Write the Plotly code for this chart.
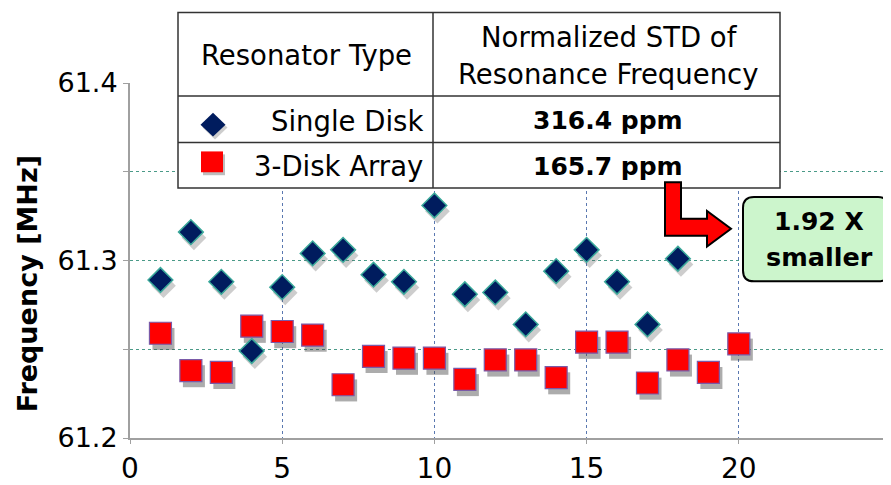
import plotly.graph_objects as go

# ---- data ----
single_x = list(range(1, 19))
single_y = [61.289, 61.316, 61.288, 61.249, 61.285, 61.304, 61.306, 61.292, 61.288,
            61.331, 61.281, 61.282, 61.264, 61.294, 61.306, 61.288, 61.264, 61.301]
array_x = list(range(1, 21))
array_y = [61.259, 61.238, 61.237, 61.263, 61.260, 61.258, 61.230, 61.246, 61.245,
           61.245, 61.233, 61.244, 61.244, 61.234, 61.254, 61.254, 61.231, 61.244,
           61.237, 61.253]
x_ticks = [0, 5, 10, 15, 20]
y_ticks = [61.2, 61.3, 61.4]
y_tick_text = ["61.2", "61.3", "61.4"]
y_minor = [61.25, 61.35]

table_header = ["Resonator Type", "Normalized STD of", "Resonance Frequency"]
table_types = ["Single Disk", "3-Disk Array"]
table_std = ["316.4 ppm", "165.7 ppm"]
ratio_lines = ["1.92 X", "smaller"]
y_title = "Frequency [MHz]"

# ---- layout geometry (page pixels; the page body has an 8px margin) ----
BODY = 8
PAGE_W, PAGE_H = 891, 485
P_L, P_R, P_T, P_B = 130, 891, 83, 441   # plot area in page pixels
W, H = PAGE_W - BODY, PAGE_H - BODY
ML, MT = P_L - BODY, P_T - BODY
MR, MB = 0, H - (P_B - BODY)
PW, PH = P_R - P_L, P_B - P_T


def px(x):
    return (x - P_L) / PW


def py(y):
    return (P_B - y) / PH


FONT = "DejaVu Sans"
fig = go.Figure()

# shadows (derived from data)
sx_off, sy_off = 0.1, -0.0032
fig.add_trace(go.Scatter(x=[v + sx_off for v in array_x], y=[v + sy_off for v in array_y],
                         mode="markers", hoverinfo="skip",
                         marker=dict(symbol="square", size=22, color="rgba(70,70,70,0.45)")))
fig.add_trace(go.Scatter(x=[v + sx_off for v in single_x], y=[v + sy_off for v in single_y],
                         mode="markers", hoverinfo="skip",
                         marker=dict(symbol="diamond", size=19, color="rgba(90,90,90,0.3)")))

fig.add_trace(go.Scatter(x=array_x, y=array_y, mode="markers", name="3-Disk Array",
                         marker=dict(symbol="square", size=22, color="#ff0000",
                                     line=dict(color="#7a5aa8", width=1.2))))
fig.add_trace(go.Scatter(x=single_x, y=single_y, mode="markers", name="Single Disk",
                         marker=dict(symbol="diamond", size=19, color="#001c5e",
                                     line=dict(color="#3aa89a", width=1.5))))

shapes = []
# table
T_L, T_R, T_T, T_B, T_MID, R1, R2 = 178, 780, 12, 189, 433, 96, 143
shapes.append(dict(type="rect", xref="paper", yref="paper", x0=px(T_L), x1=px(T_R),
                   y0=py(T_B), y1=py(T_T), fillcolor="white",
                   line=dict(color="#333333", width=1.5), layer="above"))
shapes.append(dict(type="line", xref="paper", yref="paper", x0=px(T_MID), x1=px(T_MID),
                   y0=py(T_B), y1=py(T_T), line=dict(color="#333333", width=1.5), layer="above"))
for r in (R1, R2):
    shapes.append(dict(type="line", xref="paper", yref="paper", x0=px(T_L), x1=px(T_R),
                       y0=py(r), y1=py(r), line=dict(color="#333333", width=1.5), layer="above"))


def diamond_path(cx, cy, hw, hh):
    return (f"M {px(cx)},{py(cy - hh)} L {px(cx + hw)},{py(cy)} "
            f"L {px(cx)},{py(cy + hh)} L {px(cx - hw)},{py(cy)} Z")


# legend symbols in table
shapes.append(dict(type="path", xref="paper", yref="paper", path=diamond_path(215, 128, 12.5, 12),
                   fillcolor="rgba(90,90,90,0.3)", line=dict(width=0), layer="above"))
shapes.append(dict(type="path", xref="paper", yref="paper", path=diamond_path(213, 125, 12.5, 12),
                   fillcolor="#001c5e", line=dict(width=0), layer="above"))
shapes.append(dict(type="rect", xref="paper", yref="paper", x0=px(203), x1=px(225),
                   y0=py(176), y1=py(155), fillcolor="rgba(90,90,90,0.4)",
                   line=dict(width=0), layer="above"))
shapes.append(dict(type="rect", xref="paper", yref="paper", x0=px(201), x1=px(223),
                   y0=py(173), y1=py(152), fillcolor="#ff0000",
                   line=dict(width=0), layer="above"))

# L-shaped arrow
arrow_pts = [(665, 183), (681, 183), (681, 220), (707, 220), (707, 212), (731, 230),
             (707, 248), (707, 237), (665, 237)]
arrow_path = "M " + " L ".join(f"{px(a)},{py(b)}" for a, b in arrow_pts) + " Z"
shapes.append(dict(type="path", xref="paper", yref="paper", path=arrow_path,
                   fillcolor="#ff0000", line=dict(color="black", width=2), layer="above"))

# rounded green box
bx0, bx1, by0, by1, rr = 743, 889, 198, 283, 11
box_path = (f"M {px(bx0 + rr)},{py(by0)} L {px(bx1 - rr)},{py(by0)} "
            f"Q {px(bx1)},{py(by0)} {px(bx1)},{py(by0 + rr)} "
            f"L {px(bx1)},{py(by1 - rr)} Q {px(bx1)},{py(by1)} {px(bx1 - rr)},{py(by1)} "
            f"L {px(bx0 + rr)},{py(by1)} Q {px(bx0)},{py(by1)} {px(bx0)},{py(by1 - rr)} "
            f"L {px(bx0)},{py(by0 + rr)} Q {px(bx0)},{py(by0)} {px(bx0 + rr)},{py(by0)} Z")
shapes.append(dict(type="path", xref="paper", yref="paper", path=box_path,
                   fillcolor="#ccf5cc", line=dict(color="black", width=2), layer="above"))

annotations = []


def ann(text, x, y, size=27.5, bold=False, xanchor="center", angle=0):
    annotations.append(dict(text=f"<b>{text}</b>" if bold else text, xref="paper", yref="paper",
                            x=px(x), y=py(y), xanchor=xanchor, yanchor="middle",
                            showarrow=False, textangle=angle,
                            font=dict(family=FONT, size=size, color="black")))


ann(table_header[0], 306, 55)
ann(table_header[1], 609, 37)
ann(table_header[2], 608, 74)
ann(table_types[0], 425, 121, xanchor="right")
ann(table_types[1], 425, 167, xanchor="right")
ann(table_std[0], 608, 121, size=25, bold=True)
ann(table_std[1], 608, 167, size=25, bold=True)
ann(ratio_lines[0], 819, 223, size=25, bold=True)
ann(ratio_lines[1], 819, 258, size=25.5, bold=True)
ann(y_title, 27, 286, size=27, bold=True, angle=-90)

fig.update_layout(
    width=W, height=H,
    margin=dict(l=ML, r=MR, t=MT, b=MB, pad=0),
    paper_bgcolor="white", plot_bgcolor="white",
    showlegend=False,
    shapes=shapes, annotations=annotations,
    xaxis=dict(range=[0, 25], tickvals=x_ticks, showgrid=True, gridcolor="#5a78b0",
               griddash="dot", gridwidth=1, zeroline=False, showline=True,
               linecolor="#a0a0a0", linewidth=2, ticks="outside", ticklen=4,
               tickcolor="#a0a0a0", tickfont=dict(family=FONT, size=28, color="black")),
    yaxis=dict(range=[61.2, 61.4], tickvals=y_ticks, ticktext=y_tick_text,
               showgrid=True, gridcolor="#4a9a88", griddash="dot", gridwidth=1,
               zeroline=False, showline=True, linecolor="#a0a0a0", linewidth=2,
               ticks="outside", ticklen=5, tickcolor="#a0a0a0",
               tickfont=dict(family=FONT, size=27, color="black"),
               minor=dict(tickvals=y_minor, showgrid=True, gridcolor="#4a9a88",
                          griddash="dot", gridwidth=1, ticks="outside", ticklen=5,
                          tickcolor="#a0a0a0")),
)

fig.write_html("out.html")
